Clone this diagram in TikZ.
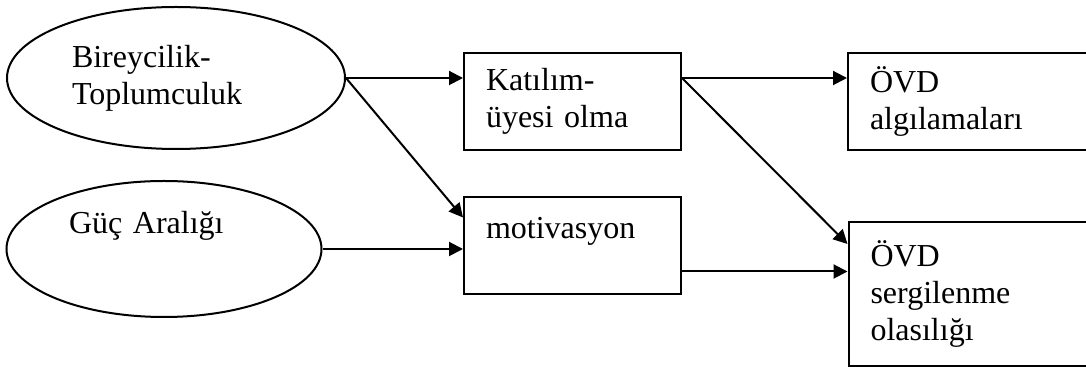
\documentclass[tikz,border=0pt]{standalone}
\usepackage{fontspec}
\setmainfont{Liberation Serif}
\usetikzlibrary{arrows.meta,calc,shapes}
\tikzstyle{dimension}=[
  ellipse,
  draw=black,
  line width=1pt,
  inner sep=0pt,
  align=left,
  font=\fontsize{16}{18.5}\selectfont,
]
\tikzstyle{element}=[
  rectangle,
  draw=black,
  line width=1pt,
  inner sep=0pt,
  align=left,
  font=\fontsize{16}{18.5}\selectfont,
  minimum width=108.5pt,
  minimum height=48.5pt,
]
\tikzstyle{outcome}=[
  element,
  minimum width=121pt,
  text width=99pt,
]
\tikzstyle{arrow}=[
  ->,
  draw=black,
  line width=1pt,
]
\tikzset{
  x=0.5pt,
  y=-0.5pt,
  >={Triangle[length=7pt,width=7pt]},
}

\begin{document}
\begin{tikzpicture}
  \useasboundingbox (0,0) rectangle (1086,367);
  \clip (0,0) rectangle (1086,367);
  %%
  \node (bireycilik) [dimension, minimum width=169pt, minimum height=71pt,
    text width=104pt] at (176,78) {Bireycilik-\\Toplumculuk};
  \node (guc) [dimension, minimum width=157.5pt, minimum height=68pt,
    text width=95pt] at (164,249) {Güç Aralığı\\[8pt]\mbox{}};
  %%
  \node (katilim) [element, text width=86.5pt] at (572.5,101.5) {Katılım-\\üyesi olma};
  \node (motivasyon) [element, text width=86.5pt] at (572.5,246) {motivasyon\\\mbox{}};
  %%
  \node (algilama) [outcome] at (969,101.5) {ÖVD\\algılamaları};
  \node (sergilenme) [outcome, minimum height=72pt] at (969.5,294) {ÖVD\\sergilenme\\olasılığı};
  %%
  \coordinate (A) at ($(katilim.north east)+(0,26)$);
  \coordinate (B) at ($(motivasyon.south east)+(0,-24)$);
  \draw [arrow] (bireycilik.east) -- (bireycilik.east -| katilim.west);
  \draw [arrow] (bireycilik.east) -- ($(motivasyon.north west)+(0,21)$);
  \draw [arrow] (guc.east) -- (guc.east -| motivasyon.west);
  \draw [arrow] (A) -- (A -| algilama.west);
  \draw [arrow] (A) -- ($(sergilenme.north west)+(0,23)$);
  \draw [arrow] (B) -- (B -| sergilenme.west);
\end{tikzpicture}
\end{document}
